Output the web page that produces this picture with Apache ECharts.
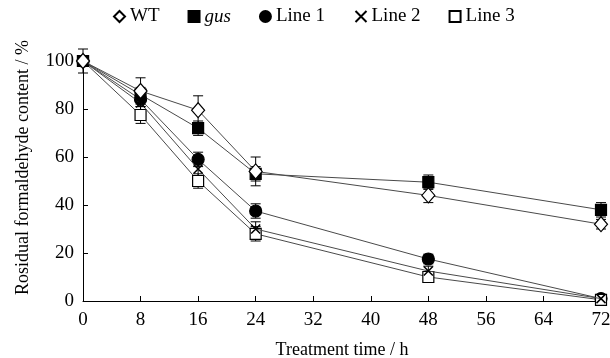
<!DOCTYPE html>
<html><head><meta charset="utf-8">
<script src="https://cdn.jsdelivr.net/npm/echarts@6/dist/echarts.min.js"></script>
<style>html,body{margin:0;padding:0;background:#fff}#c{width:610px;height:358px}</style>
</head><body><div id="c"></div>
<script>
const hours = [0, 8, 16, 24, 48, 72];
const xTicks = [0, 8, 16, 24, 32, 40, 48, 56, 64, 72];
const yTicks = [0, 20, 40, 60, 80, 100];
const seriesNames = ['WT', 'gus', 'Line 1', 'Line 2', 'Line 3'];
const yTitle = 'Rosidual formaldehyde content / %';
const xTitle = 'Treatment time / h';
const wt    = [100, 87.5, 79.5, 54, 44, 32];
const gus   = [100, 86, 72, 53, 49.5, 38];
const line1 = [100, 84, 59, 37.5, 17.5, 1];
const line2 = [100, 82.5, 55, 30, 12.5, 1];
const line3 = [100, 77.5, 50, 28, 10, 0.5];
const wtErr    = [5, 5.5, 6, 6, 3, 2];
const gusErr   = [2, 3, 3, 3, 3, 3];
const line1Err = [2, 3, 3, 3, 2, 1];
const line2Err = [2, 3, 3, 3, 2, 1];
const line3Err = [2, 3.5, 3, 3, 2, 1];

const values = [wt, gus, line1, line2, line3];
const errs = [wtErr, gusErr, line1Err, line2Err, line3Err];
const symbols = ['diamond', 'rect', 'circle', 'path://M0,0L10,10M10,0L0,10', 'rect'];
const sizes = [[13,15], 11, 12, 9, 11];
const fills = ['#fff', '#000', '#000', 'none', '#fff'];
const zs = [9, 8, 5, 7, 6];
const FONT = '"Liberation Serif", "Times New Roman", serif';

const chart = echarts.init(document.getElementById('c'));
const series = [];
values.forEach((vals, k) => {
  series.push({
    type: 'custom', name: seriesNames[k] + '_err', silent: true, z: 3,
    data: hours.map((h, i) => [h, vals[i], errs[k][i]]),
    renderItem: function (params, api) {
      const x = api.value(0), y = api.value(1), e = api.value(2);
      const top = api.coord([x, y + e]);
      const bot = api.coord([x, y - e]);
      const cw = 5;
      const st = { stroke: '#000', lineWidth: 1 };
      return { type: 'group', children: [
        { type: 'line', shape: { x1: top[0], y1: top[1], x2: bot[0], y2: bot[1] }, style: st },
        { type: 'line', shape: { x1: top[0]-cw, y1: top[1], x2: top[0]+cw, y2: top[1] }, style: st },
        { type: 'line', shape: { x1: bot[0]-cw, y1: bot[1], x2: bot[0]+cw, y2: bot[1] }, style: st }
      ]};
    }
  });
});
values.forEach((vals, k) => {
  series.push({
    type: 'line', name: seriesNames[k], z: zs[k],
    data: hours.map((h, i) => [h, vals[i]]),
    symbol: symbols[k], symbolSize: sizes[k], showAllSymbol: true,
    lineStyle: { color: '#4a4a4a', width: 1 },
    itemStyle: { color: fills[k], borderColor: '#000', borderWidth: k === 3 ? 1.5 : 1.2, opacity: 1 },
    emphasis: { disabled: true }, animation: false
  });
});

chart.setOption({
  animation: false,
  textStyle: { fontFamily: FONT },
  legend: {
    data: seriesNames.map((n, k) => ({ name: n, icon: symbols[k] })),
    top: 2, left: 108, itemGap: 28, itemWidth: 11, itemHeight: 11,
    textStyle: { fontFamily: FONT, fontSize: 19, color: '#000',
      rich: { i: { fontStyle: 'italic', fontFamily: FONT, fontSize: 19, color: '#000' } } },
    formatter: n => n === 'gus' ? '{i|gus}' : n
  },
  graphic: [{
    type: 'text', left: 14, top: 40, rotation: Math.PI / 2,
    style: { text: yTitle, font: '18px ' + FONT, fill: '#000' }
  }],
  grid: { left: 83, right: 9, top: 61, bottom: 57, containLabel: false, outerBoundsMode: 'none' },
  xAxis: {
    type: 'value', min: 0, max: 72, interval: 8,
    name: xTitle, nameLocation: 'middle', nameGap: 40,
    nameTextStyle: { fontFamily: FONT, fontSize: 18, color: '#000' },
    axisLine: { lineStyle: { color: '#000', width: 1 } },
    axisTick: { inside: true, length: 5, lineStyle: { color: '#000' } },
    axisLabel: { fontFamily: FONT, fontSize: 19, color: '#000', margin: 10, showMaxLabel: true,
      formatter: v => xTicks.includes(v) ? String(v) : '' },
    splitLine: { show: false }
  },
  yAxis: {
    type: 'value', min: 0, max: 100, interval: 20,
    axisLine: { show: true, lineStyle: { color: '#000', width: 1 } },
    axisTick: { show: true, inside: true, length: 5, lineStyle: { color: '#000' } },
    axisLabel: { fontFamily: FONT, fontSize: 19, color: '#000', margin: 9,
      formatter: v => yTicks.includes(v) ? String(v) : '' },
    splitLine: { show: false }
  },
  series: series
});
</script></body></html>
